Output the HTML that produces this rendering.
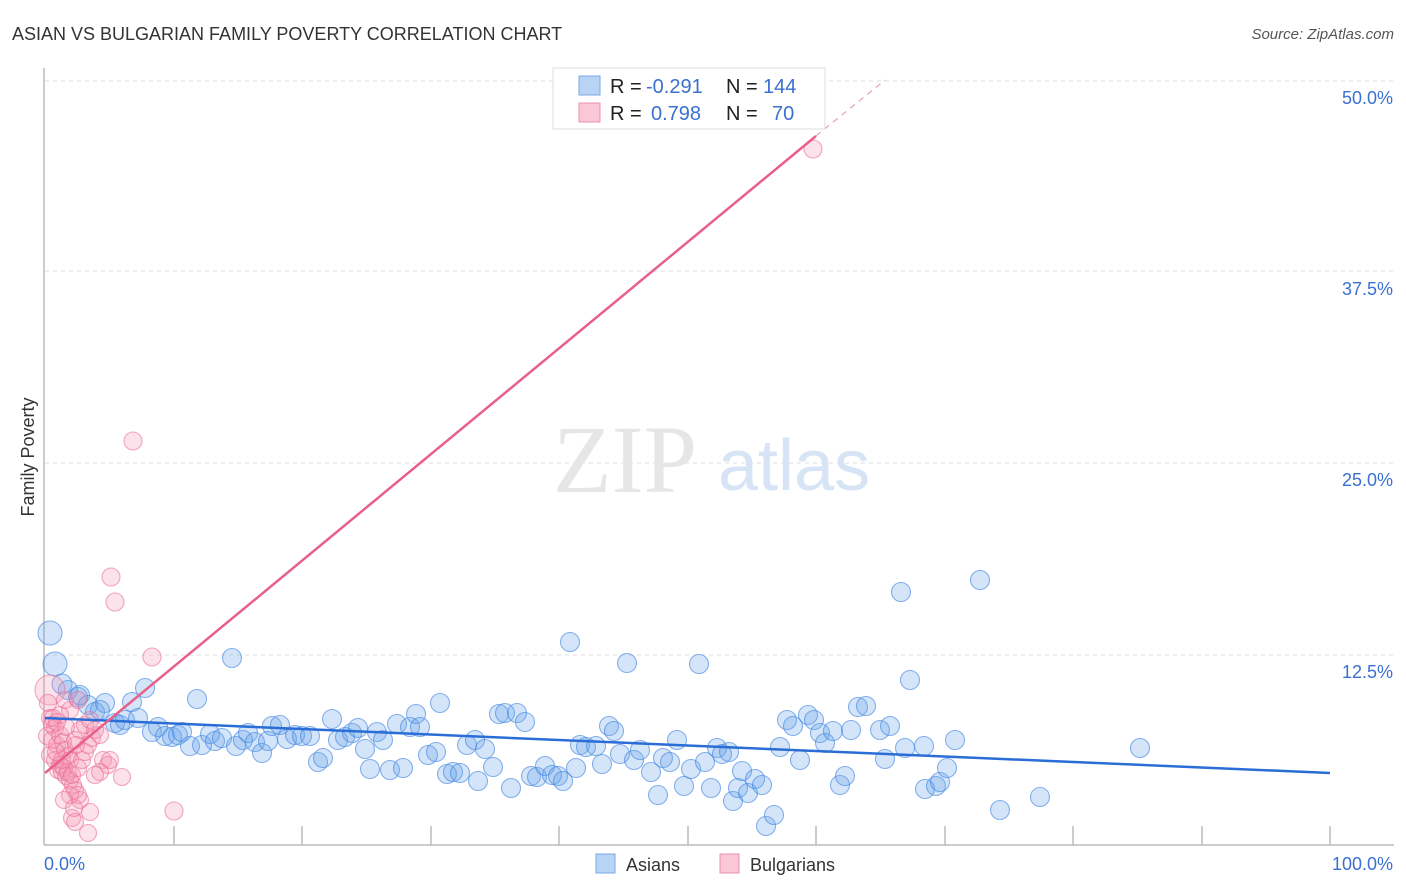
<!DOCTYPE html>
<html><head><meta charset="utf-8"><style>
body{margin:0;background:#fff;font-family:"Liberation Sans",sans-serif}
svg{display:block}
.b circle{fill:rgba(100,160,235,0.28);stroke:rgba(60,130,225,0.6);stroke-width:1.1}
.p circle{fill:rgba(245,150,180,0.28);stroke:rgba(235,110,150,0.6);stroke-width:1.1}
</style></head><body>
<svg width="1406" height="892" xmlns="http://www.w3.org/2000/svg">
<text x="12" y="40" font-size="18" fill="#333">ASIAN VS BULGARIAN FAMILY POVERTY CORRELATION CHART</text>
<text x="1394" y="39" font-size="15" fill="#555" text-anchor="end" font-style="italic">Source: ZipAtlas.com</text>
<g stroke="#ddd" stroke-dasharray="4,4" stroke-width="1">
<line x1="45" y1="81" x2="1394" y2="81"/><line x1="45" y1="271" x2="1394" y2="271"/><line x1="45" y1="463" x2="1394" y2="463"/><line x1="45" y1="655" x2="1394" y2="655"/></g>
<text x="553" y="492" font-size="96" fill="#e6e6e6" font-family="Liberation Serif">ZIP</text>
<text x="718" y="490" font-size="72" fill="#d6e4f5">atlas</text>
<line x1="44" y1="68" x2="44" y2="845" stroke="#bbb" stroke-width="1.5"/>
<line x1="44" y1="845" x2="1394" y2="845" stroke="#bbb" stroke-width="1.5"/>
<g stroke="#bbb" stroke-width="1.5">
<line x1="174" y1="826" x2="174" y2="845"/><line x1="302" y1="826" x2="302" y2="845"/><line x1="431" y1="826" x2="431" y2="845"/><line x1="559" y1="826" x2="559" y2="845"/><line x1="688" y1="826" x2="688" y2="845"/><line x1="816" y1="826" x2="816" y2="845"/><line x1="945" y1="826" x2="945" y2="845"/><line x1="1073" y1="826" x2="1073" y2="845"/><line x1="1202" y1="826" x2="1202" y2="845"/><line x1="1330" y1="826" x2="1330" y2="845"/></g>
<g font-size="18" fill="#3a70d0" text-anchor="end">
<text x="1393" y="104">50.0%</text><text x="1393" y="295">37.5%</text><text x="1393" y="486">25.0%</text><text x="1393" y="678">12.5%</text>
<text x="1393" y="870">100.0%</text></g>
<text x="44" y="870" font-size="18" fill="#3a70d0">0.0%</text>
<text x="34" y="457" font-size="18" fill="#333" transform="rotate(-90 34 457)" text-anchor="middle">Family Poverty</text>
<g class="b">
<circle cx="50" cy="633" r="12"/><circle cx="55" cy="664" r="12"/><circle cx="62" cy="684" r="10"/>
</g>
<g class="b" id="bl"></g>
<g class="p" id="pl"><circle cx="50" cy="690" r="15"/><circle cx="133" cy="441" r="9"/><circle cx="111" cy="577" r="9"/><circle cx="115" cy="602" r="9"/><circle cx="152" cy="657" r="9"/><circle cx="174" cy="811" r="9"/><circle cx="813" cy="149" r="9"/></g>
<line x1="45" y1="718" x2="1330" y2="773" stroke="#2a6dd6" stroke-width="2.5"/>
<line x1="45" y1="773" x2="816" y2="136" stroke="#e8608a" stroke-width="2.5"/>
<line x1="816" y1="136" x2="885" y2="80" stroke="#e8a0b8" stroke-width="1.2" stroke-dasharray="6,5"/>
<rect x="553" y="68" width="272" height="61" fill="#fff" stroke="#ddd"/>
<rect x="579" y="76" width="21" height="19" fill="#b9d3f5" stroke="#7aaae6"/>
<rect x="579" y="103" width="21" height="19" fill="#fac7d6" stroke="#eb90ae"/>
<g font-size="20" fill="#222"><text x="610" y="93">R =</text><text x="726" y="93">N =</text><text x="610" y="120">R =</text><text x="726" y="120">N =</text></g>
<g font-size="20" fill="#3a70d0"><text x="646" y="93">-0.291</text><text x="763" y="93">144</text><text x="651" y="120">0.798</text><text x="772" y="120">70</text></g>
<rect x="596" y="854" width="19" height="19" fill="#b9d3f5" stroke="#7aaae6"/>
<text x="626" y="871" font-size="18" fill="#333">Asians</text>
<rect x="720" y="854" width="19" height="19" fill="#fac7d6" stroke="#eb90ae"/>
<text x="750" y="871" font-size="18" fill="#333">Bulgarians</text>
</svg>
<script>
var B=[68,690,78,697,80,695,88,705,95,712,105,703,100,710,115,723,120,725,125,720,132,702,138,718,145,688,152,732,158,727,165,736,172,737,178,735,182,732,190,746,197,699,202,745,210,734,215,741,222,738,232,658,236,746,243,740,248,733,255,742,262,753,268,741,272,726,280,725,287,739,295,735,302,736,310,736,318,762,323,758,332,719,338,740,345,737,352,733,358,728,365,749,370,769,377,732,383,740,390,770,397,724,403,768,410,727,416,714,420,727,428,755,436,752,440,703,447,774,453,772,460,773,467,745,475,740,478,781,485,749,493,767,499,714,505,713,511,788,517,713,525,722,531,776,537,777,545,766,552,775,558,776,563,781,570,642,576,768,580,745,586,747,596,746,602,764,609,726,614,731,620,754,627,663,634,760,640,750,651,772,658,795,663,758,670,762,677,740,684,786,691,769,699,664,705,762,711,788,717,748,722,754,729,752,733,801,738,788,742,771,748,793,755,779,762,785,766,826,774,815,780,747,787,720,793,726,800,760,808,715,814,720,820,733,825,743,833,731,840,785,845,776,851,730,858,707,866,706,880,730,885,759,890,726,901,592,905,748,910,680,925,789,924,746,936,786,940,782,947,768,955,740,980,580,1000,810,1040,797,1140,748];
var P=[48,703,50,718,52,725,55,728,47,736,52,740,57,745,60,735,63,742,65,750,68,756,70,760,50,755,55,760,58,770,62,772,66,776,70,780,73,785,75,790,60,765,64,768,68,772,72,775,78,768,82,760,85,752,88,745,92,738,75,740,80,730,85,725,90,720,70,710,60,715,65,700,78,700,95,730,100,735,103,760,108,765,100,772,122,777,110,760,95,775,72,818,75,822,90,812,88,833,80,800,78,795,53,718,57,722,66,727,62,760,56,752,76,745,70,795,64,800,74,808];
function add(id,a,r){var g=document.getElementById(id),s='';for(var i=0;i<a.length;i+=2)s+='<circle cx="'+a[i]+'" cy="'+a[i+1]+'" r="'+r+'"/>';g.innerHTML+=s;}
add('bl',B,9.5);add('pl',P,8.5);
</script>
</body></html>
